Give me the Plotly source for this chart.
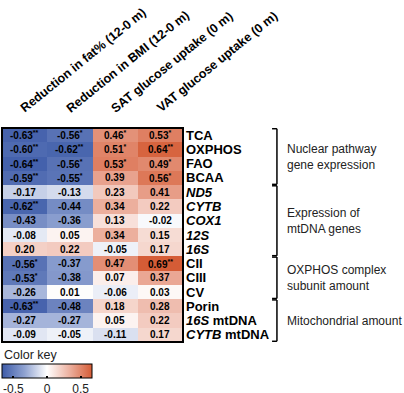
import plotly.graph_objects as go

columns = ["Reduction in fat% (12-0 m)", "Reduction in BMI (12-0 m)",
           "SAT glucose uptake (0 m)", "VAT glucose uptake (0 m)"]
rows = ["TCA", "OXPHOS", "FAO", "BCAA", "<i>ND5</i>", "<i>CYTB</i>", "<i>COX1</i>",
        "<i>12S</i>", "<i>16S</i>", "CII", "CIII", "CV", "Porin",
        "<i>16S</i> mtDNA", "<i>CYTB</i> mtDNA"]

fat_pct = [-0.63, -0.60, -0.64, -0.59, -0.17, -0.62, -0.43, -0.08, 0.20, -0.56, -0.53, -0.26, -0.63, -0.27, -0.09]
fat_sig = ["**", "**", "**", "**", "", "**", "", "", "", "*", "*", "", "**", "", ""]
bmi = [-0.56, -0.62, -0.56, -0.55, -0.13, -0.44, -0.36, 0.05, 0.22, -0.37, -0.38, 0.01, -0.48, -0.27, -0.05]
bmi_sig = ["*", "**", "*", "*", "", "", "", "", "", "", "", "", "", "", ""]
sat = [0.46, 0.51, 0.53, 0.39, 0.23, 0.34, 0.13, 0.34, -0.05, 0.47, 0.07, -0.06, 0.18, 0.05, -0.11]
sat_sig = ["*", "*", "*", "", "", "", "", "", "", "", "", "", "", "", ""]
vat = [0.53, 0.64, 0.49, 0.56, 0.41, 0.22, -0.02, 0.15, 0.17, 0.69, 0.37, 0.03, 0.28, 0.22, 0.17]
vat_sig = ["*", "**", "*", "*", "", "", "", "", "", "**", "", "", "", "", ""]

groups = ["Nuclear pathway<br>gene expression", "Expression of<br>mtDNA genes",
          "OXPHOS complex<br>subunit amount", "Mitochondrial amount"]
group_start = [0, 4, 9, 12]
group_end = [3, 8, 11, 14]

colorbar_ticks = [-0.5, 0, 0.5]

series = [fat_pct, bmi, sat, vat]
sigs = [fat_sig, bmi_sig, sat_sig, vat_sig]

nrow = len(rows)
ncol = len(columns)
z = [[series[j][i] for j in range(ncol)] for i in range(nrow)]

FONT = "Arial, Liberation Sans, sans-serif"

fig = go.Figure()
fig.add_trace(go.Heatmap(
    z=z, x=list(range(ncol)), y=list(range(nrow)),
    zmin=-0.67, zmax=0.67,
    colorscale=[[0, "#3d5ba8"], [0.25, "#8fa2d1"], [0.5, "#ffffff"], [0.75, "#ecb09f"], [1, "#d55c36"]],
    hoverinfo="skip",
    colorbar=dict(orientation="h", x=0, xanchor="left", y=-0.105, yanchor="top",
                  len=90, lenmode="pixels", thickness=14, thicknessmode="pixels",
                  xpad=0, ypad=0, tickvals=colorbar_ticks,
                  ticktext=[f"{t:g}" for t in colorbar_ticks],
                  ticks="inside", ticklen=2, tickwidth=1.5, tickcolor="black",
                  outlinewidth=1, outlinecolor="black",
                  tickfont=dict(size=12, family=FONT, color="#222")),
))

annotations = []
for i in range(nrow):
    for j in range(ncol):
        v = series[j][i]
        s = sigs[j][i]
        txt = f"{v:.2f}" + (f"<sup>{s}</sup>" if s else "")
        annotations.append(dict(x=j, y=i, xref="x", yref="y", text=txt, showarrow=False,
                                font=dict(size=10, family=FONT, color="black", weight="bold")))

for j, c in enumerate(columns):
    annotations.append(dict(x=j - 0.2, y=1, xref="x", yref="paper", yshift=10, text=c,
                            textangle=-39, xanchor="left", yanchor="bottom", showarrow=False,
                            font=dict(size=12.5, family=FONT, color="black", weight="bold")))

for g, a, b in zip(groups, group_start, group_end):
    annotations.append(dict(x=1.563, y=(a + b) / 2, xref="paper", yref="y", text=g,
                            xanchor="left", yanchor="middle", align="left", showarrow=False,
                            font=dict(size=12, family=FONT, color="#222")))

annotations.append(dict(x=0, y=-0.02, xref="paper", yref="paper", text="Color key",
                        xanchor="left", yanchor="top", showarrow=False,
                        font=dict(size=12.5, family=FONT, color="#222")))

shapes = [dict(type="rect", xref="paper", yref="paper", x0=0, x1=1, y0=0, y1=1,
               line=dict(color="black", width=2))]
for a, b in zip(group_start, group_end):
    y0 = a - 0.45
    y1 = b + 0.45
    xv = 1.519
    xl = 1.492
    shapes.append(dict(type="line", xref="paper", yref="y", x0=xv, x1=xv, y0=y0, y1=y1,
                       line=dict(color="black", width=1.5)))
    shapes.append(dict(type="line", xref="paper", yref="y", x0=xl, x1=xv, y0=y0, y1=y0,
                       line=dict(color="black", width=1.5)))
    shapes.append(dict(type="line", xref="paper", yref="y", x0=xl, x1=xv, y0=y1, y1=y1,
                       line=dict(color="black", width=1.5)))

fig.update_layout(
    width=404, height=393,
    margin=dict(l=2, r=221, t=128, b=51, autoexpand=False),
    paper_bgcolor="white", plot_bgcolor="white",
    annotations=annotations, shapes=shapes,
    xaxis=dict(range=[-0.5, ncol - 0.5], showticklabels=False, showgrid=False, zeroline=False,
               ticks="", automargin=False),
    yaxis=dict(range=[nrow - 0.5, -0.5], side="right", tickvals=list(range(nrow)), ticktext=rows,
               showgrid=False, zeroline=False, ticks="", ticklabelstandoff=2, automargin=False,
               tickfont=dict(size=13, family=FONT, color="black", weight="bold")),
    showlegend=False,
)

fig.write_html("out.html", config={"displayModeBar": False},
               post_script="document.body.style.margin='0px';document.body.style.overflow='hidden';")
